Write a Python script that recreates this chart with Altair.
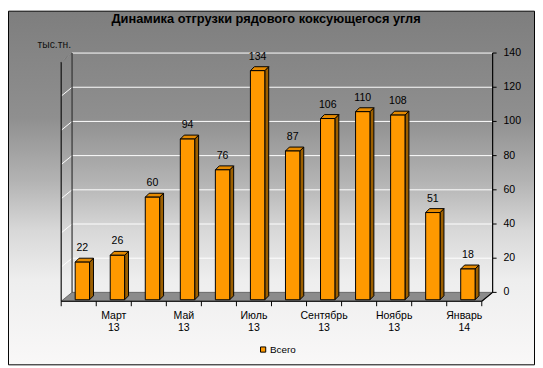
import altair as alt
import pandas as pd

# ---------------- data ----------------
months = ["Февраль", "Март", "Апрель", "Май", "Июнь", "Июль",
          "Август", "Сентябрь", "Октябрь", "Ноябрь", "Декабрь", "Январь"]
years = ["13", "13", "13", "13", "13", "13", "13", "13", "13", "13", "13", "14"]
values = [22, 26, 60, 94, 76, 134, 87, 106, 110, 108, 51, 18]
series_name = "Всего"
y_ticks = [0, 20, 40, 60, 80, 100, 120, 140]
title_text = "Динамика отгрузки рядового коксующегося угля"
unit_text = "тыс.тн."

# ---------------- geometry (scale units) ----------------
W, H = 438, 252
XMAX = 12.31
YMIN, YMAX = -5.2, 140
DX, DY = 0.31, 5.2          # depth of the walls / floor
BOFF, BHW = 0.104, 0.205    # bar centre offset / half width
BBASE = -4.3                # bar front bottom
BDX, BDY = 0.112, 2.3       # bar depth
N = len(values)
FONT = "Liberation Sans"
PXY = H / (YMAX - YMIN)
PXX = W / XMAX

xs = alt.Scale(domain=[0, XMAX], nice=False, zero=False)
ys = alt.Scale(domain=[YMIN, YMAX], nice=False, zero=False)

def X(f):
    return alt.X(f, scale=xs, axis=None)

def Y(f):
    return alt.Y(f, scale=ys, axis=None)

# ---------------- background ----------------
grad = alt.LinearGradient(
    gradient="linear", x1=0, y1=0, x2=0, y2=1,
    stops=[
        alt.GradientStop(offset=0.0, color="#7e7e7e"),
        alt.GradientStop(offset=0.30, color="#8f8f8f"),
        alt.GradientStop(offset=0.48, color="#b3b3b3"),
        alt.GradientStop(offset=0.62, color="#d8d8d8"),
        alt.GradientStop(offset=0.76, color="#eeeeee"),
        alt.GradientStop(offset=1.0, color="#f9f8f8"),
    ],
)
bg = alt.Chart(pd.DataFrame({"a": [0]})).mark_rect(
    fill=grad, stroke="black", strokeWidth=1
).encode(
    x=alt.value(-53.5), x2=alt.value(480.5),
    y=alt.value(-42.5), y2=alt.value(316.5)
)

# ---------------- floor ----------------
floor_df = pd.DataFrame({
    "fy": [YMIN, 0.0],
    "fx": [0.0, DX],
    "fx2": [float(N), N + DX],
})
floor = alt.Chart(floor_df).mark_area(
    orient="horizontal", fill="#8c8c8c", stroke="#505050", strokeWidth=0.8
).encode(y=Y("fy:Q"), x=X("fx:Q"), x2="fx2:Q")

# ---------------- gridlines ----------------
grid_rows = []
for v in y_ticks[1:]:
    grid_rows += [
        {"g": v, "o": 0, "gx": 0.0, "gy": v - DY},
        {"g": v, "o": 1, "gx": DX, "gy": v},
        {"g": v, "o": 2, "gx": XMAX, "gy": v},
    ]
grid = alt.Chart(pd.DataFrame(grid_rows)).mark_line(
    color="white", strokeWidth=1
).encode(x=X("gx:Q"), y=Y("gy:Q"), detail="g:N", order="o:Q")

# ---------------- wall edges / axis lines ----------------
edge_rows = []
def seg(name, col, pts):
    for k, (a, b) in enumerate(pts):
        edge_rows.append({"s": name, "c": col, "o": k, "ex": a, "ey": b})
seg("leftfront", "#111111", [(0.0, YMIN), (0.0, YMAX - DY)])
seg("lefttop", "#777777", [(0.0, YMAX - DY), (DX, YMAX)])
seg("backleft", "#333333", [(DX, 0.0), (DX, YMAX)])
seg("floorfront", "#000000", [(0.0, YMIN), (float(N), YMIN)])
seg("floorright", "#000000", [(float(N), YMIN), (XMAX, 0.0)])
seg("rightaxis", "#000000", [(XMAX, 0.0), (XMAX, YMAX)])
edges = alt.Chart(pd.DataFrame(edge_rows)).mark_line(strokeWidth=1.2).encode(
    x=X("ex:Q"), y=Y("ey:Q"),
    color=alt.Color("c:N", scale=None),
    detail="s:N", order="o:Q",
)

# x ticks at category boundaries
xt_df = pd.DataFrame({"tx": list(range(N + 1))})
xt_df["ty"] = YMIN
xt_df["ty2"] = YMIN - 5 / PXY
xticks = alt.Chart(xt_df).mark_rule(color="black", strokeWidth=1).encode(
    x=X("tx:Q"), y=Y("ty:Q"), y2="ty2:Q",
)

# category labels (every other month, two lines)
cat_rows = [{"cx": i + 0.5, "cy": YMIN, "ct": f"{months[i]}\n{years[i]}"}
            for i in range(1, N, 2)]
cats = alt.Chart(pd.DataFrame(cat_rows)).mark_text(
    font=FONT, fontSize=10.7, color="black", baseline="top",
    lineBreak="\n", lineHeight=12, dy=10
).encode(x=X("cx:Q"), y=Y("cy:Q"), text="ct:N")

# value axis on the right: ticks and labels
yt_df = pd.DataFrame({"yv": y_ticks})
yt_df["yx"] = XMAX
yt_df["yx2"] = XMAX + 4 / PXX
yt_df["yl"] = yt_df["yv"].astype(str)
yticks = alt.Chart(yt_df).mark_rule(color="black", strokeWidth=1).encode(
    x=X("yx:Q"), x2="yx2:Q", y=Y("yv:Q"),
)
ylabels = alt.Chart(yt_df).mark_text(
    font=FONT, fontSize=10.7, color="black", align="left", baseline="middle", dx=11
).encode(x=X("yx:Q"), y=Y("yv:Q"), text="yl:N")

# unit label
unit_df = pd.DataFrame({"ux": [-7 / PXX], "uy": [YMAX + 8 / PXY], "ut": [unit_text]})
unit = alt.Chart(unit_df).mark_text(
    font=FONT, fontSize=10.5, color="#111111", align="center", baseline="middle"
).encode(x=X("ux:Q"), y=Y("uy:Q"), text="ut:N")

# ---------------- bars ----------------
front_rows, side_rows, top_rows, lab_rows = [], [], [], []
for i, v in enumerate(values):
    c = i + 0.5 + BOFF
    x0, x1 = c - BHW, c + BHW
    front_rows.append({"x0": x0, "x1": x1, "y0": BBASE, "y1": v + BBASE,
                       "series": series_name, "month": months[i], "value": v})
    side_rows += [
        {"b": i, "sx": x1, "lo": BBASE, "hi": v + BBASE},
        {"b": i, "sx": x1 + BDX, "lo": BBASE + BDY, "hi": v + BBASE + BDY},
    ]
    top_rows += [
        {"b": i, "ty": v + BBASE, "xa": x0, "xb": x1},
        {"b": i, "ty": v + BBASE + BDY, "xa": x0 + BDX, "xb": x1 + BDX},
    ]
    lab_rows.append({"lx": c, "ly": v + BBASE, "txt": str(v)})

side = alt.Chart(pd.DataFrame(side_rows)).mark_area(
    orient="vertical", fill="#9c5f00", stroke="black", strokeWidth=1
).encode(x=X("sx:Q"), y=Y("lo:Q"), y2="hi:Q", detail="b:N")
top = alt.Chart(pd.DataFrame(top_rows)).mark_area(
    orient="horizontal", fill="#e68a00", stroke="black", strokeWidth=1
).encode(y=Y("ty:Q"), x=X("xa:Q"), x2="xb:Q", detail="b:N")

front = alt.Chart(pd.DataFrame(front_rows)).mark_rect(
    stroke="black", strokeWidth=1
).encode(
    x=X("x0:Q"), x2="x1:Q",
    y=Y("y0:Q"), y2="y1:Q",
    color=alt.Color("series:N", scale=alt.Scale(domain=[series_name], range=["#ff9900"]),
                    legend=alt.Legend(
                        orient="none", legendX=200, legendY=296, title=None,
                        symbolType="square", symbolSize=28, symbolStrokeColor="black",
                        symbolStrokeWidth=1, symbolFillColor="#ff9900",
                        labelFont=FONT, labelFontSize=10, labelColor="black",
                        labelOffset=2, padding=0,
                    )),
)

labels = alt.Chart(pd.DataFrame(lab_rows)).mark_text(
    font=FONT, fontSize=10.7, color="black", dy=-14, baseline="middle"
).encode(x=X("lx:Q"), y=Y("ly:Q"), text="txt:N")

chart = alt.layer(bg, floor, grid, edges, xticks, cats, yticks, ylabels, unit,
                  side, top, front, labels).properties(
    width=W, height=H,
    autosize="none",
    padding={"left": 54, "top": 43, "right": 43, "bottom": 65},
    title=alt.Title(title_text, font=FONT, fontSize=13, fontWeight="bold",
                    color="black", anchor="middle", frame="group",
                    offset=0, dy=29, baseline="bottom", dx=-11, zindex=2),
).configure_view(stroke=None)

chart.save("out.html", embed_options={"renderer": "svg", "actions": False})
